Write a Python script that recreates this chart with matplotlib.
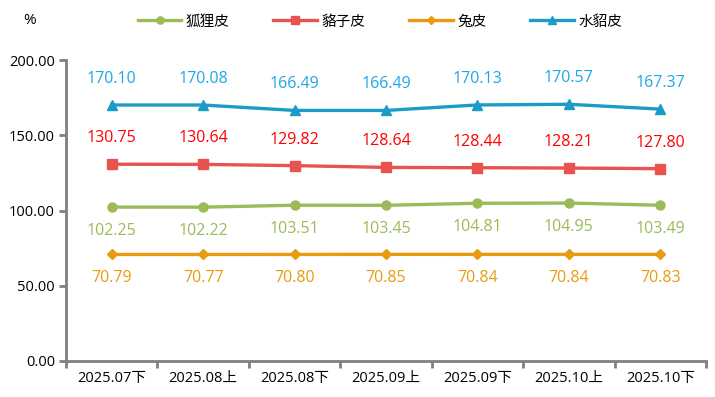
import matplotlib
matplotlib.use("Agg")
import matplotlib.pyplot as plt
import numpy as np

plt.rcParams['font.family'] = ['Open Sans', 'Noto Sans CJK SC', 'DejaVu Sans']

categories = ["2025.07下", "2025.08上", "2025.08下", "2025.09上", "2025.09下", "2025.10上", "2025.10下"]
fox = [102.25, 102.22, 103.51, 103.45, 104.81, 104.95, 103.49]
raccoon = [130.75, 130.64, 129.82, 128.64, 128.44, 128.21, 127.80]
rabbit = [70.79, 70.77, 70.80, 70.85, 70.84, 70.84, 70.83]
mink = [170.10, 170.08, 166.49, 166.49, 170.13, 170.57, 167.37]
series_names = ["狐狸皮", "貉子皮", "兔皮", "水貂皮"]
yticks = [0, 50, 100, 150, 200]

fig = plt.figure(figsize=(7.15, 3.97), dpi=100)
ax = fig.add_axes([66/715, 36/397, 640/715, 301/397])
x = np.arange(len(categories))

specs = [
    (fox, series_names[0], '#9BBB59', 'o', 6.5, '#9BBB59', -1),
    (raccoon, series_names[1], '#E8534F', 's', 6.5, '#FF0000', 1),
    (rabbit, series_names[2], '#E89B12', 'D', 5, '#E89B12', -1),
    (mink, series_names[3], '#1B9BC5', '^', 7, '#1EA7E8', 1),
]
handles = []
for vals, name, col, mk, ms, lcol, side in specs:
    h, = ax.plot(x, vals, color=col, lw=2.4, marker=mk, markersize=ms, label=name)
    handles.append(h)
    for xi, v in zip(x, vals):
        off = 26 if side > 0 else -24
        ax.annotate(f"{v:.2f}", (xi, v), xytext=(0, off), textcoords='offset pixels',
                    ha='center', va='center', color=lcol, fontsize=11.5)

ax.set_xlim(-0.5, len(categories) - 0.5)
ax.set_ylim(0, 200)
ax.set_yticks(yticks)
ax.set_yticklabels([f"{t:.2f}" for t in yticks], fontsize=10.5)
ax.set_xticks(x)
ax.set_xticklabels(categories, fontsize=10.5)
ax.set_xticks(np.arange(-0.5, len(categories), 1), minor=True)
ax.tick_params(axis='x', which='major', length=0, pad=7)
ax.tick_params(axis='x', which='minor', length=5, width=2, color='#808080')
ax.tick_params(axis='y', length=5, width=2, color='#808080', pad=3)
for s in ['top', 'right']:
    ax.spines[s].set_visible(False)
for s in ['left', 'bottom']:
    ax.spines[s].set_color('#808080')
    ax.spines[s].set_linewidth(2)

fig.text(30/715, 1 - 20/397, "%", fontsize=11, ha='center', va='center')
leg = fig.legend(handles=handles, loc='center', bbox_to_anchor=(380/715, 1 - 22/397), ncol=4,
                 frameon=False, fontsize=10.5, handlelength=3, columnspacing=3.0, handletextpad=0.3,
                 markerscale=0.8)

fig.savefig("out.png", dpi=100)
